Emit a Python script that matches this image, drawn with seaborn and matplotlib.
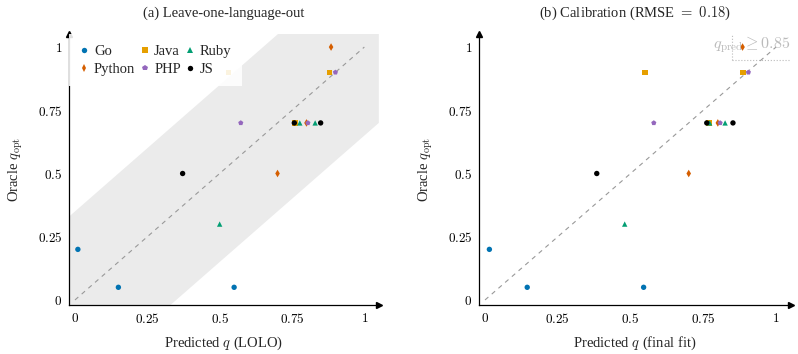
import pandas as pd
import seaborn as sns
import matplotlib.pyplot as plt

# languages (legend order) and their marker / colour
langs = ["Go", "Python", "Java", "PHP", "Ruby", "JS"]
colors = ["#0173b2", "#d55e00", "#e69f00", "#9467bd", "#029e73", "#000000"]
markers = ["o", "d", "s", "p", "^", "o"]

# each language: predicted q (LOLO), predicted q (final fit), oracle q_opt
go_lolo = [0.01, 0.15, 0.55]
go_fit = [0.015, 0.145, 0.545]
go_opt = [0.2, 0.05, 0.05]

py_lolo = [0.70, 0.80, 0.885]
py_fit = [0.70, 0.80, 0.885]
py_opt = [0.5, 0.7, 1.0]

java_lolo = [0.53, 0.76, 0.88]
java_fit = [0.55, 0.77, 0.887]
java_opt = [0.9, 0.7, 0.9]

php_lolo = [0.573, 0.805, 0.90]
php_fit = [0.58, 0.808, 0.905]
php_opt = [0.7, 0.7, 0.9]

ruby_lolo = [0.50, 0.777, 0.83]
ruby_fit = [0.48, 0.772, 0.825]
ruby_opt = [0.3, 0.7, 0.7]

js_lolo = [0.372, 0.758, 0.849]
js_fit = [0.384, 0.762, 0.852]
js_opt = [0.5, 0.7, 0.7]

ticks = [0, 0.25, 0.5, 0.75, 1]
tick_labels = ["$0$", "$0.25$", "$0.5$", "$0.75$", "$1$"]

rows = []
for lang, lolo, fit, opt in zip(
    langs,
    [go_lolo, py_lolo, java_lolo, php_lolo, ruby_lolo, js_lolo],
    [go_fit, py_fit, java_fit, php_fit, ruby_fit, js_fit],
    [go_opt, py_opt, java_opt, php_opt, ruby_opt, js_opt],
):
    for a, b, c in zip(lolo, fit, opt):
        rows.append({"lang": lang, "lolo": a, "fit": b, "opt": c})
df = pd.DataFrame(rows)

sns.set_style("white")
plt.rcParams["font.family"] = "serif"
plt.rcParams["font.serif"] = ["Liberation Serif", "DejaVu Serif"]
plt.rcParams["mathtext.fontset"] = "cm"

fig = plt.figure(figsize=(7.98, 3.54), dpi=100)
ax1 = fig.add_axes([0.0867, 0.1384, 0.388, 0.7644])
ax2 = fig.add_axes([0.6005, 0.1384, 0.3902, 0.7644])

pal = dict(zip(langs, colors))
mk = dict(zip(langs, markers))

# gray tolerance band on the left panel
xs = [-0.02, 1.05]
ax1.fill_between(xs, [x - 0.35 for x in xs], [x + 0.35 for x in xs],
                 color="#ebebeb", lw=0, zorder=0)

for ax, col in [(ax1, "lolo"), (ax2, "fit")]:
    ax.plot([0, 1], [0, 1], ls=(0, (4, 4)), color="#999999", lw=0.8, zorder=1)
    sns.scatterplot(data=df, x=col, y="opt", hue="lang", style="lang",
                    hue_order=langs, style_order=langs, palette=pal,
                    markers=mk, s=15, linewidth=0, ax=ax, zorder=3,
                    legend=(ax is ax1))
    ax.set_xlim(-0.02, 1.05)
    ax.set_ylim(-0.02, 1.05)
    ax.set_xticks(ticks, labels=tick_labels)
    ax.set_yticks(ticks, labels=tick_labels)
    ax.tick_params(direction="inout", length=4, width=0.6, labelsize=9.5,
                   pad=3, colors="black")
    for s in ["top", "right"]:
        ax.spines[s].set_visible(False)
    for s in ["left", "bottom"]:
        ax.spines[s].set_color("black")
        ax.spines[s].set_linewidth(0.9)
    ax.plot(1, 0, marker=">", ms=4, color="black", transform=ax.transAxes,
            clip_on=False)
    ax.plot(0, 1, marker="^", ms=4, color="black", transform=ax.transAxes,
            clip_on=False)
    ax.set_ylabel(r"Oracle $q_{\rm opt}$", fontsize=10.5, labelpad=9)

ax1.set_xlabel(r"Predicted $q$ (LOLO)", fontsize=10.5, labelpad=6)
ax2.set_xlabel(r"Predicted $q$ (final fit)", fontsize=10.5, labelpad=6)
ax1.set_title("(a) Leave-one-language-out", fontsize=10.5, pad=13)
ax2.set_title(r"(b) Calibration (RMSE$\ =\ 0.18$)", fontsize=10.5, pad=13)

handles, labels = ax1.get_legend_handles_labels()
leg = ax1.legend(handles, labels, ncol=3, loc="upper left", fontsize=10.5,
                 frameon=True, framealpha=0.88, edgecolor="none",
                 fancybox=False, borderaxespad=0, handletextpad=0.3,
                 columnspacing=0.3, handlelength=0.7, borderpad=0.7,
                 labelspacing=0.35)
leg.set_zorder(5)

# high-prediction region marker on the right panel
ax2.plot([0.85, 0.85], [0.95, 1.05], ls=":", color="#bbbbbb", lw=0.8)
ax2.plot([0.85, 1.05], [0.95, 0.95], ls=":", color="#bbbbbb", lw=0.8)
ax2.text(0.785, 0.995, r"$q_{\rm pred} \geq 0.85$", color="#bbbbbb",
         fontsize=11.5, clip_on=False)

fig.savefig("out.png", dpi=100)
